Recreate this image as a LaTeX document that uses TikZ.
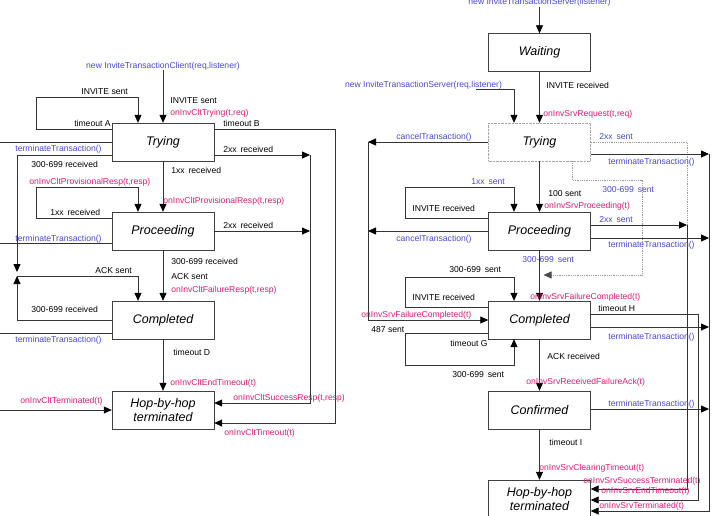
\documentclass[tikz,border=0pt]{standalone}
\usepackage{fontspec}
\setmainfont{Liberation Sans}
\usetikzlibrary{arrows.meta}
\definecolor{invBlue}{RGB}{72,72,208}
\definecolor{invRed}{RGB}{214,30,112}
\tikzset{invState/.style={draw=black!75,rectangle,minimum width=102pt,minimum height=38pt,inner sep=1pt,align=center,font=\fontsize{12.5}{14}\selectfont\itshape},
 invTxt/.style={font=\fontsize{8.6}{10}\selectfont,inner sep=0pt},
 invAct/.style={invTxt,text=invBlue},
 invCb/.style={invTxt,text=invRed},
 invLine/.style={draw=black!80,line width=0.8pt},
 invArrow/.style={invLine,-{Triangle[length=8pt,width=7pt,color=black]}},
 invDot/.style={draw=black!40,line width=0.8pt,densely dotted}}

\begin{document}
\begin{tikzpicture}[x=1pt,y=-1pt]
\useasboundingbox (0,0) rectangle (715,515);
% client side
\node[invAct] (lNew) at (163,66) {new InviteTransactionClient(req,listener)};
\node[invState] (lTry) at (163,142) {Trying};
\node[invState] (lPro) at (163,231) {Proceeding};
\node[invState] (lCom) at (163,320) {Completed};
\node[invState] (lHop) at (163,410) {Hop-by-hop\\terminated};
\coordinate (lEdge) at (0,0);
\coordinate (lAck) at (17,276);
\coordinate (lOkTry) at (310,155);
\coordinate (lOkPro) at (310,231);
\draw[invArrow] (lNew) -- (lTry)
 node[invTxt,anchor=base west] at (170,103) {INVITE sent}
 node[invCb,anchor=base west] at (170,115) {onInvCltTrying(t,req)};
\draw[invArrow] (lTry.west |- 0,129) -- (36,129) -- (36,97) -- (138,97) -- (lTry.north -| 138,0)
 node[invTxt,anchor=base east] at (111,126) {timeout A}
 node[invTxt,anchor=base west] at (81,94) {INVITE sent};
\draw[invArrow] (lTry.east |- 0,129) -- (335,129) -- (335,423) -- (lHop.east |- 0,423)
 node[invTxt,anchor=base west] at (223,126) {timeout B}
 node[invCb,anchor=base west] at (224,435) {onInvCltTimeout(t)};
\draw[invArrow] (lTry.east |- lOkTry) -- (lOkTry)
 node[invTxt,anchor=base west] at (223,152) {2xx\, received};
\draw[invArrow] (lPro) -- (lOkPro)
 node[invTxt,anchor=base west] at (223,228) {2xx\, received};
\draw[invArrow] (lOkTry) -- (310,403) -- (lHop.east |- 0,403)
 node[invCb,anchor=base west] at (233,400) {onInvCltSuccessResp(t,resp)};
\draw[invLine] (lTry.west |- 0,142) -- (lEdge |- 0,142)
 node[invAct,anchor=base west] at (15,151) {terminateTransaction()};
\draw[invArrow] (lTry.west |- 0,155) -- (17,155) -- ([yshift=4pt]lAck)
 node[invTxt,anchor=base west] at (31,167) {300-699 received};
\draw[invArrow] (lTry) -- (lPro)
 node[invTxt,anchor=base west] at (171,173) {1xx\, received}
 node[invCb,anchor=base west] at (163,203) {onInvCltProvisionalResp(t,resp)};
\draw[invArrow] (lPro.west |- 0,218) -- (36,218) -- (36,187) -- (138,187) -- (lPro.north -| 138,0)
 node[invCb,anchor=base west] at (29,184) {onInvCltProvisionalResp(t,resp)}
 node[invTxt,anchor=base west] at (50,215) {1xx\, received};
\draw[invLine] (lPro.west |- 0,243) -- (lEdge |- 0,243)
 node[invAct,anchor=base west] at (15,241) {terminateTransaction()};
\draw[invArrow] (lPro) -- (lCom)
 node[invTxt,anchor=base west] at (171,264) {300-699 received}
 node[invTxt,anchor=base west] at (171,279) {ACK sent}
 node[invCb,anchor=base west] at (171,292) {onInvCltFailureResp(t,resp)};
\draw[invArrow] (lAck) -- (138,276) -- (lCom.north -| 138,0)
 node[invTxt,anchor=base west] at (95,273) {ACK sent};
\draw[invArrow] (lCom.west |- 0,320) -- (17,320) -- (lAck)
 node[invTxt,anchor=base west] at (31,312) {300-699 received};
\draw[invLine] (lCom.west |- 0,333) -- (lEdge |- 0,333)
 node[invAct,anchor=base west] at (15,342) {terminateTransaction()};
\draw[invArrow] (lCom) -- (lHop)
 node[invTxt,anchor=base west] at (173,355) {timeout D}
 node[invCb,anchor=base west] at (170,385) {onInvCltEndTimeout(t)};
\draw[invArrow] (lEdge |- 0,410) -- (lHop)
 node[invCb,anchor=base west] at (20,403) {onInvCltTerminated(t)};
% server side
\node[invAct] (rNew) at (539.5,2.5) {new InviteTransactionServer(listener)};
\node[invAct] (rNewReq) at (423.5,85) {new InviteTransactionServer(req,listener)};
\node[invState] (rWait) at (539.5,52.5) {Waiting};
\node[invState,draw=black!35,densely dotted] (rTry) at (539.5,142) {Trying};
\node[invState] (rPro) at (539.5,231) {Proceeding};
\node[invState] (rCom) at (539.5,320) {Completed};
\node[invState] (rConf) at (539.5,410) {Confirmed};
\node[invState] (rHop) at (539.5,499) {Hop-by-hop\\terminated};
\coordinate (rFail) at (368,320);
\coordinate (rOk) at (687,225);
\coordinate (rEnd) at (709,511);
\draw[invArrow] (rNew) -- (rWait);
\draw[invArrow] (rWait) -- (rTry)
 node[invTxt,anchor=base west] at (546,88) {INVITE received}
 node[invCb,anchor=base west] at (543,116) {onInvSrvRequest(t,req)};
\draw[invArrow] (rNewReq.south -| 476,0) -- (rNewReq.south -| 514,0) -- (rTry.north -| 514,0);
\draw[invArrow] (rTry) -- (rTry -| rFail)
 node[invAct,anchor=base west] at (396,139) {cancelTransaction()};
\draw[invArrow] (rPro) -- (rPro -| rFail)
 node[invAct,anchor=base west] at (396,241) {cancelTransaction()};
\draw[invArrow] (rTry -| rFail) -- (rFail) -- (rCom)
 node[invCb,anchor=base west] at (361,317) {onInvSrvFailureCompleted(t)}
 node[invTxt,anchor=base west] at (371,332) {487 sent};
\draw[invDot] (rTry) -- (rTry -| rOk) -- (rOk)
 node[invAct,anchor=base west] at (599,139) {2xx\, sent};
\draw[invArrow] (rPro.east |- rOk) -- (rOk)
 node[invAct,anchor=base west] at (599,222) {2xx\, sent};
\draw[invArrow] (rOk) -- (687,489) -- (rHop.east |- 0,489)
 node[invCb,anchor=base west] at (583,483) {onInvSrvSuccessTerminated(t)};
\draw[invDot,-{Triangle[length=8pt,width=7pt,color=black!70]},shorten >=4pt] (rTry.south -| 572,0) -- (572,180) -- (642,180) -- (642,275) -- (rPro.south |- 0,275)
 node[invAct,anchor=base west] at (602,192) {300-699\, sent};
\foreach \n/\y/\ly in {rTry/154/164,rPro/238/247,rCom/327/339,rConf/409/406}{
\draw[invArrow] (\n.east |- 0,\y) -- (rEnd |- 0,\y)
 node[invAct,anchor=base west] at (608,\ly) {terminateTransaction()};}
\draw[invArrow] (rEnd |- 0,154) -- (rEnd) -- (rHop.east |- rEnd)
 node[invCb,anchor=base west] at (599,508) {onInvSrvTerminated(t)};
\draw[invArrow] (rTry) -- (rPro)
 node[invTxt,anchor=base west] at (548,196) {100 sent}
 node[invCb,anchor=base west] at (544,208) {onInvSrvProceeding(t)};
\draw[invArrow] (rPro.west |- 0,218) -- (405,218) -- (405,187) -- (514,187) -- (rPro.north -| 514,0)
 node[invAct,anchor=base west] at (471,184) {1xx\, sent}
 node[invTxt,anchor=base west] at (412,211) {INVITE received};
\draw[invArrow] (rPro) -- (rCom)
 node[invAct,anchor=base west] at (522,262) {300-699\, sent}
 node[invCb,anchor=base west] at (530,299) {onInvSrvFailureCompleted(t)};
\draw[invArrow] (rCom.west |- 0,307) -- (405,307) -- (405,277) -- (514,277) -- (rCom.north -| 514,0)
 node[invTxt,anchor=base west] at (449,272) {300-699\, sent}
 node[invTxt,anchor=base west] at (412,300) {INVITE received};
\draw[invArrow] (rCom.west |- 0,333) -- (405,333) -- (405,365) -- (514,365) -- (rCom.south -| 514,0)
 node[invTxt,anchor=base west] at (450,346) {timeout G}
 node[invTxt,anchor=base west] at (452,377) {300-699\, sent};
\draw[invArrow] (rCom.east |- 0,314) -- (698,314) -- (698,500) -- (rHop.east |- 0,500)
 node[invTxt,anchor=base west] at (598,311) {timeout H}
 node[invCb,anchor=base west] at (601,493) {onInvSrvEndTimeout(t)};
\draw[invArrow] (rCom) -- (rConf)
 node[invTxt,anchor=base west] at (547,359) {ACK received}
 node[invCb,anchor=base west] at (526,384) {onInvSrvReceivedFailureAck(t)};
\draw[invArrow] (rConf) -- (rHop)
 node[invTxt,anchor=base west] at (549,445) {timeout I}
 node[invCb,anchor=base west] at (539,470) {onInvSrvClearingTimeout(t)};
\end{tikzpicture}
\end{document}
